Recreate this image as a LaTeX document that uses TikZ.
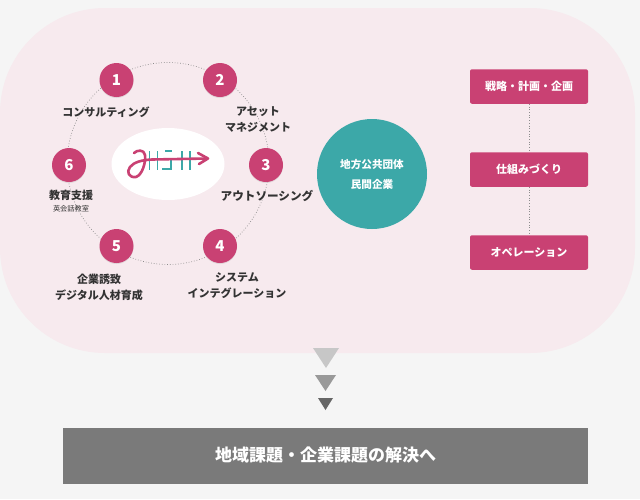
\documentclass[tikz,border=0pt]{standalone}
\usepackage{fontspec}
\setmainfont{Noto Sans CJK JP}
\usetikzlibrary{shadows,shapes.geometric}
\definecolor{pagegray}{HTML}{F5F5F5}
\definecolor{panelpink}{HTML}{F7EAEE}
\definecolor{rosepink}{HTML}{C94173}
\definecolor{tealdisc}{HTML}{3CA8A8}
\definecolor{inkgray}{HTML}{333333}
\tikzset{
  stepdisc/.style={circle, fill=rosepink, text=white, font=\bfseries\fontsize{15}{15}\selectfont,
    minimum size=34pt, inner sep=0pt, drop shadow={opacity=.18, shadow xshift=0pt, shadow yshift=-1pt}},
  steplabel/.style={text=inkgray, align=center, font=\bfseries\fontsize{11}{16}\selectfont, inner sep=0pt},
  phasebox/.style={rectangle, rounded corners=2pt, fill=rosepink, text=white, minimum width=118pt,
    minimum height=34.5pt, inner sep=0pt, font=\bfseries\fontsize{11}{12}\selectfont},
  dotline/.style={draw=black!45, line width=.7pt, dotted},
  logopink/.style={draw=rosepink, line width=2.6pt, line cap=round, line join=round},
  logoteal/.style={draw=tealdisc, line width=1.6pt}
}
\begin{document}
\begin{tikzpicture}[x=1pt, y=-1pt, node distance=83pt]
  \useasboundingbox (0,0) rectangle (640,499);
  \fill[pagegray] (0,0) rectangle (640,499);
  \fill[panelpink, rounded corners=105pt] (0,8) rectangle (635,353);

  % ring of six steps
  \coordinate (hub) at (168,163.5);
  \draw[dotline] (hub) circle[radius=101pt];
  \node[stepdisc] (one) at (116.5,80) {1};
  \node[stepdisc] (two) at (220,80) {2};
  \node[stepdisc] (three) at (266,165) {3};
  \node[stepdisc] (four) at (220,246) {4};
  \node[stepdisc] (five) at (116.5,246) {5};
  \node[stepdisc] (six) at (69,165) {6};

  \node[steplabel] (oneL) at (106,112.5) {コンサルティング};
  \node[steplabel] (twoL) at (258,120) {アセット\\マネジメント};
  \node[steplabel, font=\bfseries\fontsize{11.6}{16}\selectfont] (threeL) at (267,196) {アウトソーシング};
  \node[steplabel] (fourL) at (237,285.5) {システム\\インテグレーション};
  \node[steplabel] (fiveL) at (99,287.5) {企業誘致\\デジタル人材育成};
  \node[steplabel] (sixL) at (71,195) {教育支援};
  \node[steplabel, font=\fontsize{7.2}{9}\selectfont] (sixS) at (71,209) {英会話教室};

  % logo in the middle
  \node[ellipse, fill=white, minimum width=113pt, minimum height=72pt, inner sep=0pt] (logo) at (168,164) {};
  \draw[logoteal] (149.5,151) -- (149.5,170) (157.5,151) -- (157.5,170);
  \draw[logoteal] (165,151) -- (172,151) (162,169) -- (171,169) -- (171,160);
  \draw[logoteal] (182,151) -- (182,170) (190,151) -- (190,170);
  \draw[logopink] (134,153) .. controls (137,150) and (144,149) .. (145,155)
    .. controls (146,163) and (142,175) .. (136,177)
    .. controls (129,178) and (126,172) .. (130,167)
    .. controls (134,162) and (142,160) .. (152,159.5) -- (207,158.5);
  \draw[logopink] (198,153) -- (208,158.5) -- (199,164);

  % partner disc
  \node[circle, fill=tealdisc, text=white, minimum size=110pt, inner sep=0pt, align=center,
    font=\bfseries\fontsize{10.6}{20}\selectfont] (client) at (372,174) {地方公共団体\\民間企業};

  % phases on the right
  \node[phasebox] (plan) at (529,86.5) {戦略・計画・企画};
  \node[phasebox, below of=plan] (build) {仕組みづくり};
  \node[phasebox, below of=build] (oper) {オペレーション};
  \draw[dotline] (plan) -- (build);
  \draw[dotline] (build) -- (oper);

  % falling triangles
  \fill[black!22] (313,348) -- (339,348) -- (326,368) -- cycle;
  \fill[black!40] (315,375) -- (336,375) -- (325.5,391) -- cycle;
  \fill[black!60] (318,398) -- (333,398) -- (325.5,410) -- cycle;

  \node[rectangle, fill=black!52, text=white, minimum width=525pt, minimum height=56pt, inner sep=0pt,
    font=\bfseries\fontsize{17}{17}\selectfont] (goal) at (325.5,455.5) {地域課題・企業課題の解決へ};
\end{tikzpicture}
\end{document}
